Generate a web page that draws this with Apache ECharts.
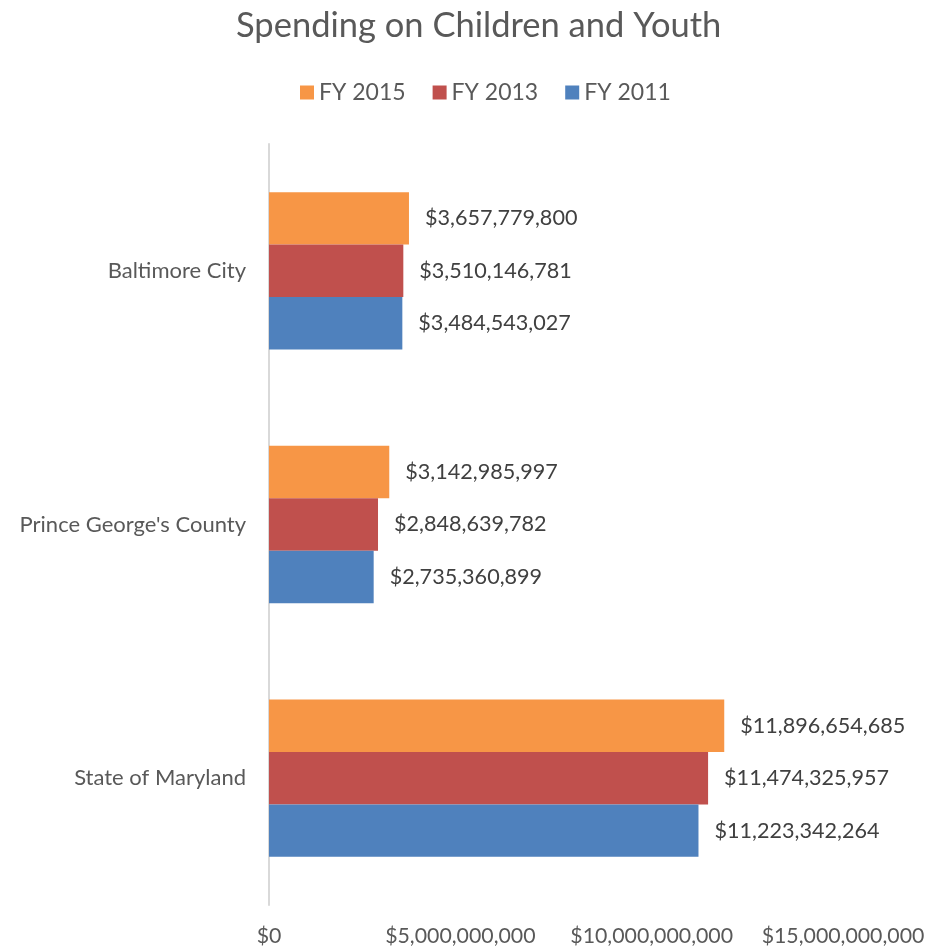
<!DOCTYPE html>
<html>
<head>
<meta charset="utf-8">
<script src="https://cdn.jsdelivr.net/npm/echarts@6/dist/echarts.min.js"></script>
<style>
  html, body { margin: 0; padding: 0; background: #fff; }
  #chart { width: 938px; height: 947px; }
</style>
</head>
<body>
<div id="chart"></div>
<script>
// Jurisdictions, listed top to bottom
const categories = ['Baltimore City', "Prince George's County", 'State of Maryland'];

// Spending by fiscal year (dollars)
const fy2015 = [3657779800, 3142985997, 11896654685];
const fy2013 = [3510146781, 2848639782, 11474325957];
const fy2011 = [3484543027, 2735360899, 11223342264];

// Value axis ticks
const xTicks = [0, 5000000000, 10000000000, 15000000000];

const FONT = 'Lato';
const money = v => '$' + Number(v).toLocaleString('en-US');

const chart = echarts.init(document.getElementById('chart'), null, { renderer: 'canvas' });

function barSeries(name, data, color) {
  return {
    name: name,
    type: 'bar',
    data: data,
    barGap: '0%',
    barCategoryGap: '38%',
    itemStyle: { color: color },
    label: {
      show: true,
      position: 'right',
      distance: 16,
      formatter: p => money(p.value),
      color: '#404040',
      fontFamily: FONT,
      fontSize: 21.6
    }
  };
}

chart.setOption({
  backgroundColor: '#fff',
  animation: false,
  title: {
    text: 'Spending on Children and Youth',
    left: 231,
    top: 3,
    textStyle: { fontFamily: FONT, fontSize: 34.5, fontWeight: 'normal', color: '#595959' }
  },
  legend: {
    data: ['FY 2015', 'FY 2013', 'FY 2011'],
    top: 76,
    left: 295,
    icon: 'rect',
    itemWidth: 14,
    itemHeight: 14,
    itemGap: 27,
    textStyle: { fontFamily: FONT, fontSize: 23, color: '#595959' }
  },
  grid: { left: 269, right: 95, top: 144, bottom: 40 },
  xAxis: {
    type: 'value',
    min: xTicks[0],
    max: xTicks[xTicks.length - 1],
    interval: xTicks[1] - xTicks[0],
    axisLine: { show: false },
    axisTick: { show: false },
    splitLine: { show: false },
    axisLabel: {
      margin: 21,
      formatter: v => money(v),
      color: '#595959',
      fontFamily: FONT,
      fontSize: 21.3
    }
  },
  yAxis: {
    type: 'category',
    data: categories,
    inverse: true,
    axisLine: { show: true, lineStyle: { color: '#d9d9d9', width: 2 } },
    axisTick: { show: false },
    axisLabel: {
      margin: 23,
      color: '#595959',
      fontFamily: FONT,
      fontSize: 22
    }
  },
  series: [
    barSeries('FY 2015', fy2015, '#F79646'),
    barSeries('FY 2013', fy2013, '#C0504D'),
    barSeries('FY 2011', fy2011, '#4F81BD')
  ]
});
</script>
</body>
</html>
